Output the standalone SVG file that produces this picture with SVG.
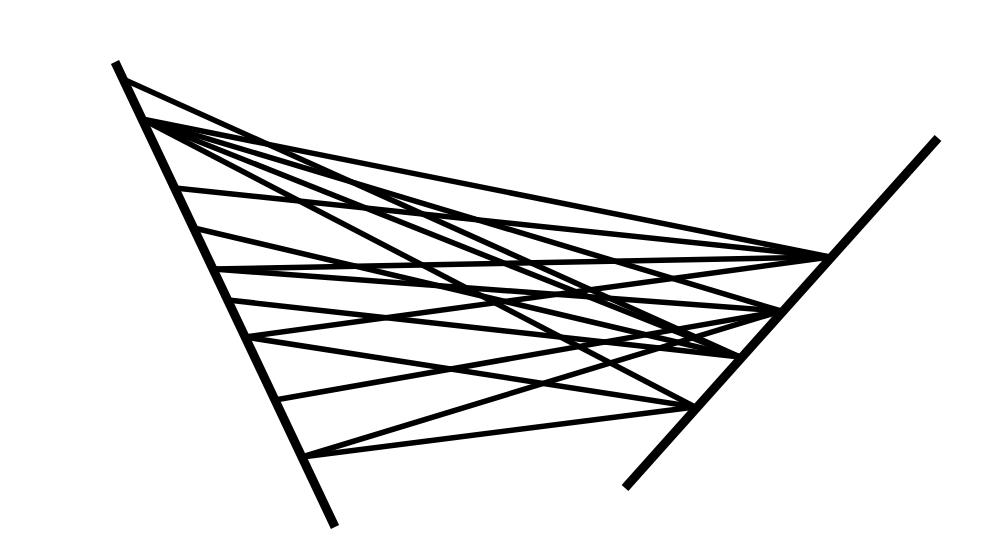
<svg xmlns="http://www.w3.org/2000/svg" width="1000" height="556" viewBox="0 0 1000 556">
<style>
.thin{stroke:#000;stroke-width:5.5;fill:none}
.thick{stroke:#000;stroke-width:9;fill:none}
</style>
<rect width="1000" height="556" fill="#fff"/>
<g id="connectors">
<line class="thin" x1="123" y1="79" x2="740" y2="357"/>
<line class="thin" x1="142" y1="119" x2="830" y2="257"/>
<line class="thin" x1="142" y1="119" x2="781" y2="311"/>
<line class="thin" x1="142" y1="119" x2="740" y2="357"/>
<line class="thin" x1="142" y1="119" x2="695" y2="407"/>
<line class="thin" x1="175" y1="188" x2="830" y2="257"/>
<line class="thin" x1="194" y1="228" x2="740" y2="357"/>
<line class="thin" x1="213" y1="269" x2="830" y2="257"/>
<line class="thin" x1="213" y1="269" x2="781" y2="311"/>
<line class="thin" x1="228" y1="300" x2="740" y2="357"/>
<line class="thin" x1="245" y1="337" x2="830" y2="257"/>
<line class="thin" x1="245" y1="337" x2="695" y2="407"/>
<line class="thin" x1="275" y1="400" x2="781" y2="311"/>
<line class="thin" x1="302" y1="457" x2="781" y2="311"/>
<line class="thin" x1="302" y1="457" x2="695" y2="407"/>
</g>
<g id="left-bar"><line class="thick" x1="115" y1="62" x2="335" y2="527"/></g>
<g id="right-bar"><line class="thick" x1="938" y1="138" x2="625" y2="488"/></g>
</svg>
